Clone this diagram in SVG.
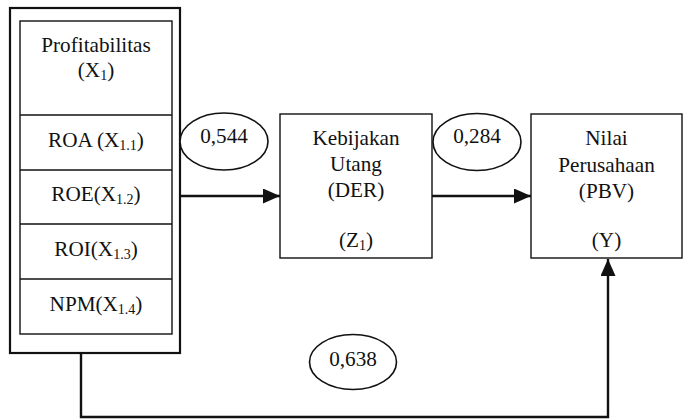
<svg xmlns="http://www.w3.org/2000/svg" width="683" height="419" viewBox="0 0 683 419">
  <style>
    text { font-family: "Liberation Serif", "Times New Roman", serif; font-size: 21.2px; fill: #111; text-anchor: middle; }
    .sub { font-size: 14px; }
    .box { fill: #fff; stroke: #111; stroke-width: 1.4; }
    .outer { fill: #fff; stroke: #111; stroke-width: 2.2; }
    .coef { fill: #fff; stroke: #111; stroke-width: 1.6; }
    .link { fill: none; stroke: #111; stroke-width: 2.4; }
  </style>
  <defs>
    <marker id="arrow" markerUnits="userSpaceOnUse" viewBox="0 0 17 15" refX="17" refY="7.5" markerWidth="17" markerHeight="15" orient="auto">
      <path d="M0,0 L17,7.5 L0,15 Z" fill="#111"/>
    </marker>
  </defs>

  <rect width="683" height="419" fill="#fff"/>

  <!-- connectors -->
  <g id="connectors">
    <line class="link" x1="181" y1="196" x2="280" y2="196" marker-end="url(#arrow)"/>
    <line class="link" x1="432" y1="196" x2="531" y2="196" marker-end="url(#arrow)"/>
    <path class="link" d="M81,353 V417 H608 V259" marker-end="url(#arrow)"/>
  </g>

  <!-- profitability block with its indicators -->
  <g id="profitabilitas">
    <rect class="outer" x="10" y="8" width="170" height="345"/>
    <rect class="box" x="20" y="21" width="152" height="313"/>
    <line class="box" x1="20" y1="115" x2="172" y2="115"/>
    <line class="box" x1="20" y1="170" x2="172" y2="170"/>
    <line class="box" x1="20" y1="224" x2="172" y2="224"/>
    <line class="box" x1="20" y1="279" x2="172" y2="279"/>
    <text x="96" y="52">Profitabilitas</text>
    <text x="96" y="77">(X<tspan class="sub" dy="3">1</tspan><tspan dy="-3">)</tspan></text>
    <text x="96" y="147">ROA (X<tspan class="sub" dy="3">1.1</tspan><tspan dy="-3">)</tspan></text>
    <text x="96" y="201">ROE(X<tspan class="sub" dy="3">1.2</tspan><tspan dy="-3">)</tspan></text>
    <text x="96" y="256">ROI(X<tspan class="sub" dy="3">1.3</tspan><tspan dy="-3">)</tspan></text>
    <text x="96" y="311">NPM(X<tspan class="sub" dy="3">1.4</tspan><tspan dy="-3">)</tspan></text>
  </g>

  <!-- debt policy -->
  <g id="kebijakan-utang">
    <rect class="box" x="280" y="114" width="152" height="144"/>
    <text x="356" y="145">Kebijakan</text>
    <text x="356" y="171">Utang</text>
    <text x="356" y="197">(DER)</text>
    <text x="356" y="247">(Z<tspan class="sub" dy="3">1</tspan><tspan dy="-3">)</tspan></text>
  </g>

  <!-- firm value -->
  <g id="nilai-perusahaan">
    <rect class="box" x="531" y="114" width="151" height="144"/>
    <text x="606.5" y="145">Nilai</text>
    <text x="606.5" y="172">Perusahaan</text>
    <text x="606.5" y="198">(PBV)</text>
    <text x="606.5" y="247">(Y)</text>
  </g>

  <!-- path coefficients -->
  <g id="coef-544">
    <ellipse class="coef" cx="224" cy="141.5" rx="44" ry="28.5"/>
    <text x="224" y="143">0,544</text>
  </g>
  <g id="coef-284">
    <ellipse class="coef" cx="477" cy="142" rx="44" ry="28.5"/>
    <text x="477" y="143">0,284</text>
  </g>
  <g id="coef-638">
    <ellipse class="coef" cx="353" cy="362" rx="43.5" ry="27.5"/>
    <text x="353" y="366">0,638</text>
  </g>
</svg>
